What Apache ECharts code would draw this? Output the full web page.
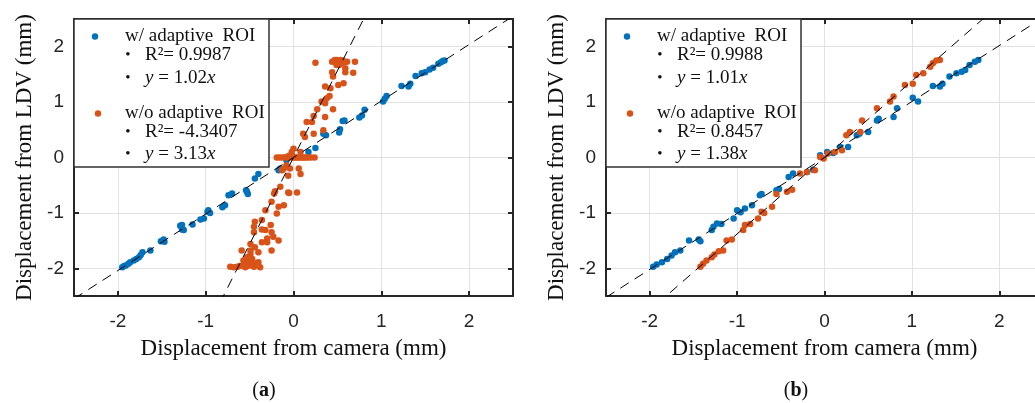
<!DOCTYPE html>
<html>
<head>
<meta charset="utf-8">
<script src="https://cdn.jsdelivr.net/npm/echarts@6/dist/echarts.min.js"></script>
<style>
  html, body { margin: 0; padding: 0; background: #fff; }
  #chart { width: 1035px; height: 403px; }
</style>
</head>
<body>
<div id="chart"></div>
<script>
// Panel (a): camera vs LDV displacement, mm
const adaptiveA = [
  [-1.95,-1.98],[-1.93,-1.96],[-1.91,-1.95],[-1.88,-1.92],[-1.86,-1.89],[-1.82,-1.86],[-1.79,-1.83],
  [-1.76,-1.80],[-1.74,-1.76],[-1.72,-1.71],[-1.63,-1.68],[-1.51,-1.51],[-1.48,-1.48],[-1.47,-1.52],
  [-1.29,-1.23],[-1.27,-1.22],[-1.25,-1.31],[-1.27,-1.30],[-1.15,-1.21],[-1.06,-1.12],[-1.02,-1.10],
  [-0.98,-0.98],[-0.97,-0.95],[-0.95,-1.00],[-0.81,-0.90],[-0.78,-0.86],[-0.74,-0.68],[-0.70,-0.65],
  [-0.53,-0.62],[-0.52,-0.66],[-0.54,-0.59],[-0.44,-0.38],[-0.40,-0.30],[-0.17,-0.23],[-0.15,-0.20],
  [-0.08,-0.05],[0.17,0.10],[0.25,0.17],[0.34,0.43],[0.37,0.40],[0.52,0.45],[0.53,0.51],[0.56,0.66],
  [0.58,0.67],[0.75,0.72],[0.78,0.76],[0.81,0.86],[1.02,1.01],[1.04,1.06],[1.06,1.11],[1.23,1.29],
  [1.31,1.28],[1.33,1.33],[1.39,1.47],[1.46,1.52],[1.50,1.54],[1.55,1.59],[1.59,1.62],[1.65,1.69],
  [1.68,1.72],[1.70,1.74],[1.72,1.75]
];
const fixedA = [
  [0.25,1.71],[0.44,1.73],[0.47,1.76],[0.49,1.76],[0.51,1.73],[0.53,1.76],[0.56,1.75],[0.58,1.73],
  [0.61,1.73],[0.70,1.73],[0.49,1.67],[0.52,1.67],[0.55,1.70],[0.59,1.61],[0.44,1.54],[0.59,1.54],
  [0.68,1.53],[0.45,1.46],[0.57,1.34],[0.51,1.31],[0.36,1.28],[0.42,1.25],[0.41,1.11],[0.38,1.07],
  [0.32,1.01],[0.36,0.98],[0.45,0.87],[0.27,0.87],[0.23,0.75],[0.36,0.73],[0.21,0.64],[0.15,0.64],
  [0.34,0.49],[0.11,0.43],[0.13,0.37],[0.23,0.43],[0.00,0.16],[-0.02,0.10],[0.08,0.10],
  [-0.19,0.00],[-0.16,0.00],[-0.13,0.00],[-0.10,0.00],[-0.08,0.01],[-0.06,0.00],[-0.04,0.00],
  [-0.02,0.01],[0.00,0.00],[0.02,0.00],[0.04,0.00],[0.06,0.00],[0.08,0.00],[0.10,0.00],[0.12,0.00],
  [0.14,0.00],[0.17,0.00],[0.20,0.00],[0.24,0.00],[-0.05,0.03],[-0.02,0.04],
  [-0.08,-0.14],[-0.04,-0.20],[-0.11,-0.20],[0.06,-0.20],[0.08,-0.30],[-0.06,-0.33],[-0.13,-0.23],
  [-0.15,-0.53],[-0.06,-0.63],[0.04,-0.63],[-0.05,-0.64],[-0.22,-0.65],[-0.21,-0.61],[-0.25,-0.80],
  [-0.11,-0.86],[-0.17,-0.89],[-0.32,-0.95],[-0.19,-1.01],[-0.36,-1.13],[-0.44,-1.16],[-0.26,-1.22],
  [-0.45,-1.25],[-0.32,-1.31],[-0.36,-1.30],[-0.25,-1.35],[-0.45,-1.35],[-0.30,-1.46],[-0.23,-1.43],
  [-0.17,-1.50],[-0.36,-1.53],[-0.30,-1.53],[-0.49,-1.56],[-0.44,-1.62],[-0.25,-1.68],[-0.40,-1.71],
  [-0.49,-1.74],[-0.53,-1.80],[-0.47,-1.83],[-0.57,-1.86],[-0.52,-1.88],[-0.45,-1.91],[-0.40,-1.89],
  [-0.61,-1.96],[-0.53,-1.96],[-0.50,-1.95],[-0.45,-1.97],[-0.38,-1.98],[-0.72,-1.97],[-0.68,-1.98],
  [-0.64,-1.97],[-0.56,-1.92],[-0.55,-1.98],[-0.59,-1.68],[-0.49,-1.68]
];

// Panel (b)
const adaptiveB = [
  [-1.96,-1.97],[-1.92,-1.93],[-1.86,-1.89],[-1.80,-1.83],[-1.75,-1.77],[-1.71,-1.71],[-1.65,-1.68],
  [-1.55,-1.50],[-1.44,-1.48],[-1.42,-1.51],[-1.29,-1.31],[-1.27,-1.25],[-1.23,-1.19],[-1.18,-1.20],
  [-1.04,-1.10],[-1.00,-0.95],[-0.96,-0.99],[-0.91,-0.92],[-0.83,-0.86],[-0.74,-0.68],[-0.72,-0.66],
  [-0.55,-0.59],[-0.52,-0.57],[-0.41,-0.35],[-0.36,-0.29],[-0.20,-0.26],[-0.13,-0.22],[-0.05,0.04],
  [0.03,0.10],[0.10,0.08],[0.18,0.19],[0.27,0.19],[0.37,0.40],[0.40,0.43],[0.50,0.46],[0.60,0.67],
  [0.62,0.70],[0.79,0.73],[0.83,0.89],[1.01,1.08],[1.07,1.01],[1.24,1.29],[1.32,1.28],[1.35,1.33],
  [1.43,1.46],[1.51,1.52],[1.57,1.55],[1.61,1.58],[1.66,1.67],[1.72,1.73],[1.76,1.76]
];
const fixedB = [
  [-1.42,-1.97],[-1.39,-1.92],[-1.35,-1.86],[-1.29,-1.80],[-1.26,-1.75],[-1.21,-1.69],[-1.16,-1.68],
  [-1.12,-1.50],[-1.06,-1.48],[-0.93,-1.31],[-0.91,-1.22],[-0.85,-1.20],[-0.76,-1.10],[-0.72,-0.98],
  [-0.69,-1.00],[-0.60,-0.89],[-0.55,-0.66],[-0.43,-0.62],[-0.37,-0.58],[-0.28,-0.29],[-0.20,-0.26],
  [-0.11,-0.23],[-0.05,0.01],[-0.01,-0.02],[0.04,0.07],[0.12,0.10],[0.20,0.13],[0.25,0.40],[0.29,0.46],
  [0.41,0.46],[0.43,0.67],[0.60,0.89],[0.75,1.01],[0.79,1.10],[0.92,1.31],[1.01,1.33],[1.05,1.49],
  [1.13,1.52],[1.21,1.64],[1.24,1.70],[1.28,1.75],[1.32,1.76]
];

// Least-squares slopes and R² printed in each legend
const slopesA = [1.02, 3.13];
const slopesB = [1.01, 1.38];
const r2A = ['0.9987', '-4.3407'];
const r2B = ['0.9988', '0.8457'];
const seriesNames = ['w/ adaptive  ROI', 'w/o adaptive  ROI'];
const axisRange = [-2.5, 2.5];
const xTitle = 'Displacement from camera (mm)';
const yTitle = 'Displacement from LDV (mm)';
const panelTags = ['a', 'b'];

const BLUE = '#0072BD';
const ORANGE = '#D95319';
const INK = '#262626';
const SERIF = '"Liberation Serif", "Times New Roman", serif';
const SANS = '"Liberation Sans", Arial, sans-serif';

function fitLine(k) {
  return [[axisRange[0], axisRange[0] * k], [axisRange[1], axisRange[1] * k]];
}

const grids = [
  { left: 74, top: 19, width: 439, height: 277, outerBoundsMode: 'none' },
  { left: 606, top: 19, width: 437, height: 277, outerBoundsMode: 'none' }
];

function axisBase(extra) {
  return Object.assign({
    type: 'value', min: axisRange[0], max: axisRange[1], splitNumber: 5,
    axisLine: { show: true, onZero: false, lineStyle: { color: INK, width: 2 } },
    axisTick: { show: true, inside: true, length: 5, lineStyle: { color: INK, width: 2 } },
    splitLine: { show: false },
    axisLabel: { show: false }
  }, extra);
}

const xAxes = [], yAxes = [];
grids.forEach((g, i) => {
  xAxes.push(axisBase({
    gridIndex: i, position: 'bottom',
    splitLine: { show: true, lineStyle: { color: '#e2e2e2', width: 1 } },
    axisLabel: { show: true, showMinLabel: false, showMaxLabel: false, margin: 16,
      fontFamily: SANS, fontSize: 19, color: INK },
    name: xTitle, nameLocation: 'middle', nameGap: 41,
    nameTextStyle: { fontFamily: SERIF, fontSize: 23, color: '#111' }
  }));
  xAxes.push(axisBase({ gridIndex: i, position: 'top' }));
  yAxes.push(axisBase({
    gridIndex: i, position: 'left',
    splitLine: { show: true, lineStyle: { color: '#e2e2e2', width: 1 } },
    axisLabel: { show: true, showMinLabel: false, showMaxLabel: false, margin: 10,
      fontFamily: SANS, fontSize: 19, color: INK },
    name: yTitle, nameLocation: 'middle', nameGap: 38,
    nameTextStyle: { fontFamily: SERIF, fontSize: 23, color: '#111' }
  }));
  yAxes.push(axisBase({ gridIndex: i, position: 'right' }));
});

function scatter(data, color, i) {
  return {
    type: 'scatter', data: data, xAxisIndex: i * 2, yAxisIndex: i * 2,
    symbol: 'circle', symbolSize: 6.5, itemStyle: { color: color, opacity: 1 },
    silent: true
  };
}
function dashed(k, i) {
  return {
    type: 'line', data: fitLine(k), xAxisIndex: i * 2, yAxisIndex: i * 2,
    showSymbol: false, symbol: 'none', clip: true, silent: true,
    lineStyle: { color: '#000', width: 1, type: [10, 7] }, z: 5
  };
}

const series = [
  scatter(adaptiveA, BLUE, 0), scatter(fixedA, ORANGE, 0),
  dashed(slopesA[0], 0), dashed(slopesA[1], 0),
  scatter(adaptiveB, BLUE, 1), scatter(fixedB, ORANGE, 1),
  dashed(slopesB[0], 1), dashed(slopesB[1], 1)
];

// Legend boxes with fit statistics
const txt = { fontFamily: SERIF, fontSize: 19, fill: '#111', verticalAlign: 'middle' };
const ital = { fontFamily: SERIF, fontSize: 19, fontStyle: 'italic' };
function legendBox(x0, slopes, r2) {
  const els = [];
  els.push({ type: 'rect', shape: { x: x0, y: 19, width: 195, height: 148 },
    style: { fill: '#fff', stroke: '#333', lineWidth: 1.5 }, z: 100 });
  const rows = [[36, 55, 78], [113, 132, 154]];
  const dots = [BLUE, ORANGE];
  rows.forEach((r, j) => {
    els.push({ type: 'circle', shape: { cx: x0 + 21 + j * 3, cy: r[0] + 0.5, r: 3.2 },
      style: { fill: dots[j] }, z: 101 });
    els.push({ type: 'text', x: x0 + 51, y: r[0], z: 101,
      style: Object.assign({ text: seriesNames[j] }, txt) });
    els.push({ type: 'text', x: x0 + 54, y: r[1], z: 101,
      style: Object.assign({ text: '•', align: 'center' }, txt, { fontSize: 15 }) });
    els.push({ type: 'text', x: x0 + 71, y: r[1], z: 101,
      style: Object.assign({ text: 'R²= ' + r2[j] }, txt) });
    els.push({ type: 'text', x: x0 + 54, y: r[2], z: 101,
      style: Object.assign({ text: '•', align: 'center' }, txt, { fontSize: 15 }) });
    els.push({ type: 'text', x: x0 + 71, y: r[2], z: 101,
      style: Object.assign({ text: '{i|y} = ' + slopes[j].toFixed(2) + '{i|x}',
        rich: { i: ital } }, txt) });
  });
  return els;
}

function tag(cx, t) {
  return { type: 'text', x: cx, y: 391, z: 101,
    style: { text: '({b|' + t + '})', align: 'center', verticalAlign: 'middle',
      fontFamily: SERIF, fontSize: 20, fill: '#111',
      rich: { b: { fontFamily: SERIF, fontSize: 20, fontWeight: 'bold' } } } };
}

const chart = echarts.init(document.getElementById('chart'), null, { renderer: 'canvas' });
chart.setOption({
  animation: false,
  backgroundColor: '#fff',
  grid: grids,
  xAxis: xAxes,
  yAxis: yAxes,
  series: series,
  graphic: legendBox(74, slopesA, r2A)
    .concat(legendBox(606, slopesB, r2B))
    .concat([tag(264, panelTags[0]), tag(796, panelTags[1])])
});
</script>
</body>
</html>
